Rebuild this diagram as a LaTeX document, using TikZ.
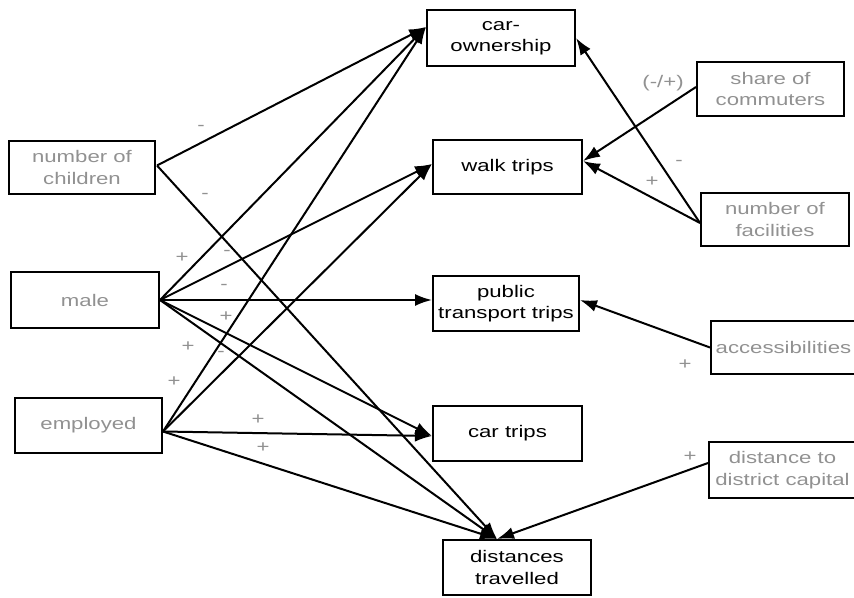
\documentclass[tikz,border=0pt]{standalone}
\usepackage{fontspec}
\newfontfamily\diafont[FakeStretch=1.32]{Liberation Sans}
\usetikzlibrary{arrows.meta,calc}
\definecolor{srcgray}{RGB}{145,145,145}
\begin{document}
\begin{tikzpicture}[x=1pt,y=-1pt,
  box/.style={draw, line width=2pt, rectangle, inner sep=0pt, align=center,
    font=\diafont\fontsize{16.8}{21.5}\selectfont},
  src/.style={box, text=srcgray},
  tgt/.style={box, text=black},
  sgn/.style={text=srcgray, font=\diafont\fontsize{16.8}{20}\selectfont, inner sep=0pt},
  edge/.style={line width=2pt, -{Latex[length=17pt,width=12pt]}}]
\useasboundingbox (0,0) rectangle (854,597);
% source nodes
\node[src, minimum width=146pt, minimum height=53pt] (kids) at (82,167.5) {number of\\children};
\node[src, minimum width=148pt, minimum height=56pt] (male) at (85,300) {male};
\node[src, minimum width=147pt, minimum height=55pt] (emp) at (88.5,425.5) {employed};
\node[src, minimum width=147pt, minimum height=54pt] (share) at (770.5,89) {share of\\commuters};
\node[src, minimum width=148pt, minimum height=53pt] (fac) at (775,219.5) {number of\\facilities};
\node[src, minimum width=145pt, minimum height=53pt] (acc) at (783.5,347.5) {accessibilities};
\node[src, minimum width=147pt, minimum height=56pt] (dcap) at (782.5,470) {distance to\\district capital};
% target nodes
\node[tgt, minimum width=148pt, minimum height=56pt] (car) at (501,38) {car-\\ownership};
\node[tgt, minimum width=149pt, minimum height=54pt] (walk) at (507.5,167) {walk trips};
\node[tgt, minimum width=146pt, minimum height=55pt] (pt) at (506,303.5) {public\\transport trips};
\node[tgt, minimum width=149pt, minimum height=55pt] (ctrip) at (507.5,433.5) {car trips};
\node[tgt, minimum width=148pt, minimum height=55pt] (dist) at (517,567.5) {distances\\travelled};
% end points
\coordinate (carL) at ($(car.west)+(0,-11)$);
\coordinate (walkL) at ($(walk.west)+(0,-3)$);
\coordinate (walkR) at ($(walk.east)+(0,-6)$);
\coordinate (ptL) at ($(pt.west)+(0,-3.5)$);
\coordinate (ptR) at ($(pt.east)+(0,-3.5)$);
\coordinate (ctL) at ($(ctrip.west)+(0,2.5)$);
\coordinate (distT) at ($(dist.north)+(-20,0)$);
\coordinate (empS) at ($(emp.east)+(0,6)$);
\coordinate (kidS) at ($(kids.east)+(1,-2)$);
% edges
\draw[edge] (kidS) -- (carL);
\draw[edge] (kidS) -- (distT);
\draw[edge] (male.east) -- (carL);
\draw[edge] (male.east) -- (walkL);
\draw[edge] (male.east) -- (ptL);
\draw[edge] (male.east) -- (ctL);
\draw[edge] (male.east) -- (distT);
\draw[edge] (empS) -- (carL);
\draw[edge] (empS) -- (walkL);
\draw[edge] (empS) -- (ctL);
\draw[edge] (empS) -- (distT);
\draw[edge] ($(share.west)+(0,-2)$) -- (walkR);
\draw[edge] ($(fac.west)+(0,3.5)$) -- (walkR);
\draw[edge] ($(fac.west)+(0,3.5)$) -- (car.east);
\draw[edge] (acc.west) -- (ptR);
\draw[edge] ($(dcap.west)+(0,-7)$) -- (distT);
% sign labels
\node[sgn] (s1) at (201,128) {-};
\node[sgn] (s2) at (205,196) {-};
\node[sgn] (s3) at (182,258) {+};
\node[sgn] (s4) at (227,253) {-};
\node[sgn] (s5) at (224,287) {-};
\node[sgn] (s6) at (226,317) {+};
\node[sgn] (s7) at (188,347) {+};
\node[sgn] (s8) at (221,354) {-};
\node[sgn] (s9) at (174,382) {+};
\node[sgn] (s10) at (258,420) {+};
\node[sgn] (s11) at (263,448) {+};
\node[sgn] (s12) at (663,83) {(-/+)};
\node[sgn] (s13) at (679,163) {-};
\node[sgn] (s14) at (652,182) {+};
\node[sgn] (s15) at (685,365) {+};
\node[sgn] (s16) at (690,457) {+};
\end{tikzpicture}
\end{document}
